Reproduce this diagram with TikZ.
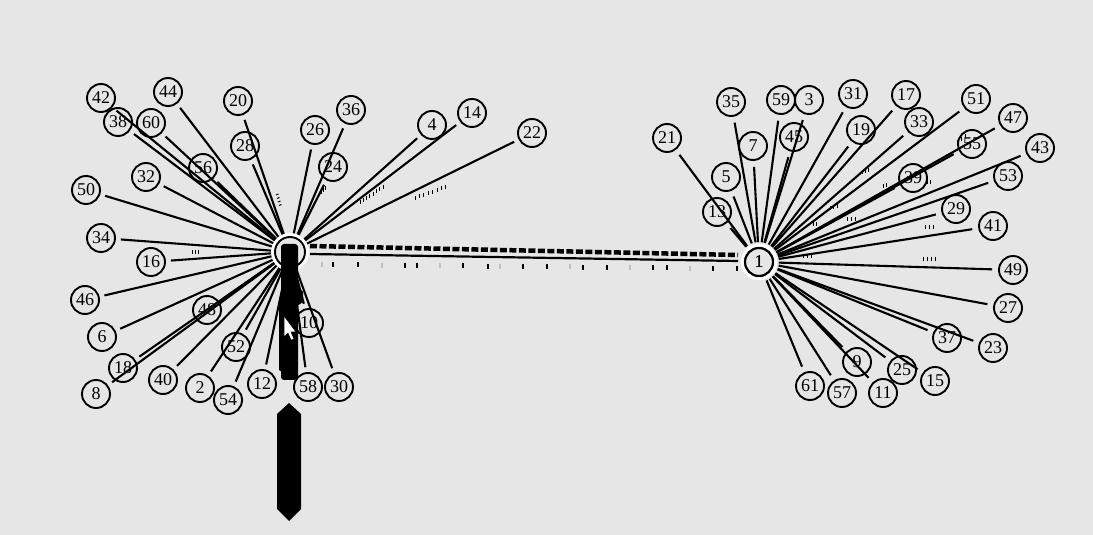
\documentclass[tikz,border=0pt]{standalone}
\usepackage{fontspec}
\setmainfont{Liberation Serif}
\usetikzlibrary{calc}
\definecolor{bgc}{HTML}{E6E6E6}
\newcommand\tkgrp[7]{\foreach \i in {0,...,#5}{\draw[tk] ({#1+\i*#3},{#2+\i*#4}) -- ++(#6,#7);}}
\begin{document}
\begin{tikzpicture}[x=1bp,y=-1bp,
  nd/.style={circle,draw,line width=1.9bp,minimum size=28bp,inner sep=0pt,font=\fontsize{18bp}{18bp}\selectfont},
  edL/.style={line width=2.1bp,shorten <=3bp,shorten >=5bp},
  edR/.style={line width=2.1bp,shorten <=5bp,shorten >=6bp},
  tk/.style={line width=1bp}]
\useasboundingbox (0,0) rectangle (1093,535);
\fill[bgc] (0,0) rectangle (1093,535);

% hubs
\node[circle,minimum size=30bp,inner sep=0pt] (hubL) at (290,252) {};
\node[nd] (hubR) at (759,262) {1};

% left cluster nodes
\foreach \n/\x/\y in {42/101/98, 44/168/92, 38/118/122, 60/151/123, 20/238/101,
  28/245/146, 56/203/168, 32/146/177, 50/86/190, 34/101/238, 16/151/262,
  46/85/300, 48/207/310, 6/102/337, 18/123/368, 8/96/394, 40/163/380,
  2/200/388, 54/228/400, 52/236/347, 12/262/384, 10/309/323, 58/308/387,
  30/339/387, 26/315/130, 36/351/110, 24/333/167, 4/432/125, 14/472/113, 22/532/133}
  {\node[nd] (n\n) at (\x,\y) {\n};}

% right cluster nodes
\foreach \n/\x/\y in {21/667/138, 35/731/102, 7/753/146, 5/726/177, 13/717/212,
  59/781/100, 3/809/100, 45/794/137, 31/853/94, 19/861/130, 17/906/95,
  33/919/122, 51/976/99, 47/1013/118, 55/972/144, 39/913/178, 43/1040/148,
  53/1008/176, 29/956/209, 41/993/226, 49/1013/270, 27/1008/308, 37/947/338,
  23/993/348, 9/857/362, 25/902/370, 15/935/381, 61/810/386, 57/842/393, 11/883/393}
  {\node[nd] (n\n) at (\x,\y) {\n};}

% left edges
\foreach \n in {42,44,38,60,20,28,56,32,50,34,16,46,48,6,18,8,40,2,54,52,12,10,58,30,26,36,24,4,14,22}
  {\draw[edL] (hubL) -- (n\n);}

% right edges
\foreach \n in {21,35,7,5,13,59,3,45,31,19,17,33,51,47,55,39,43,53,29,41,49,27,37,23,9,25,15,61,57,11}
  {\draw[edR] (hubR) -- (n\n);}

% link between the hubs
\coordinate (dA) at (310,246);
\coordinate (dB) at (738,255);
\coordinate (sA) at (310,254);
\coordinate (sB) at (738,261);
\draw[line width=4.5bp,dash pattern=on 7bp off 2.5bp] (dA) -- (dB);
\draw[line width=2.2bp] (sA) -- (sB);
\foreach \x/\c in {322/gray!50,333/black,358/black,382/gray!50,405/black,417/black,
  440/gray!50,463/black,488/black,500/gray!50,523/black,547/black,570/gray!50,
  583/black,607/black,630/gray!50,653/black,667/black,690/gray!50,713/black,737/black}
  {\draw[line width=1.4bp,\c] (\x,{262+(\x-310)*0.0093}) -- ++(0,5);}

% small tick groups on the edges
\tkgrp{192}{250}{3}{0}{2}{0}{4}
\tkgrp{276}{195}{1}{3.5}{3}{2.5}{-1}
\tkgrp{321}{190}{2}{-2}{2}{0}{4}
\tkgrp{360}{200}{3.3}{-2.1}{7}{0}{4}
\tkgrp{415}{196}{4.4}{-1.6}{7}{0}{4}
\tkgrp{862}{170}{3}{-1}{2}{0}{4}
\tkgrp{883}{184}{3}{-1}{1}{0}{4}
\tkgrp{830}{206}{3.5}{-1}{2}{0}{4}
\tkgrp{813}{222}{3}{0}{1}{0}{4}
\tkgrp{847}{217}{4}{0}{2}{0}{4}
\tkgrp{927}{180}{3}{0}{1}{0}{4}
\tkgrp{957}{140}{4}{-3}{2}{0}{4}
\tkgrp{925}{225}{4}{0}{2}{0}{4}
\tkgrp{923}{257}{4}{0}{3}{0}{4}
\tkgrp{803}{254}{4}{0}{2}{0}{4}

% hub rings
\draw[white,line width=4bp] (hubL.center) circle[radius=17bp];
\draw[line width=1.9bp] (hubL.center) circle[radius=15bp];
\draw[white,line width=2.5bp] (hubR.center) circle[radius=17bp];
\node[nd] at (hubR) {1};

% black bar and cursor
\fill[rounded corners=3bp] (281,380) -- (281,244) -- (298,244) -- (298,380) -- cycle;
\fill (297,286) -- (303,292) -- (303,302) -- (297,306) -- cycle;
\fill (279,300) -- (282,298) -- (282,372) -- (279,370) -- cycle;
\filldraw[fill=white,draw=black,line width=0.5bp] (284,316) -- (284,337) -- (288,333) -- (291,340) -- (294,339) -- (291,332) -- (296,332) -- cycle;
\fill (289,403) -- (301,414) -- (301,509) -- (289,521) -- (277,509) -- (277,414) -- cycle;
\end{tikzpicture}
\end{document}
